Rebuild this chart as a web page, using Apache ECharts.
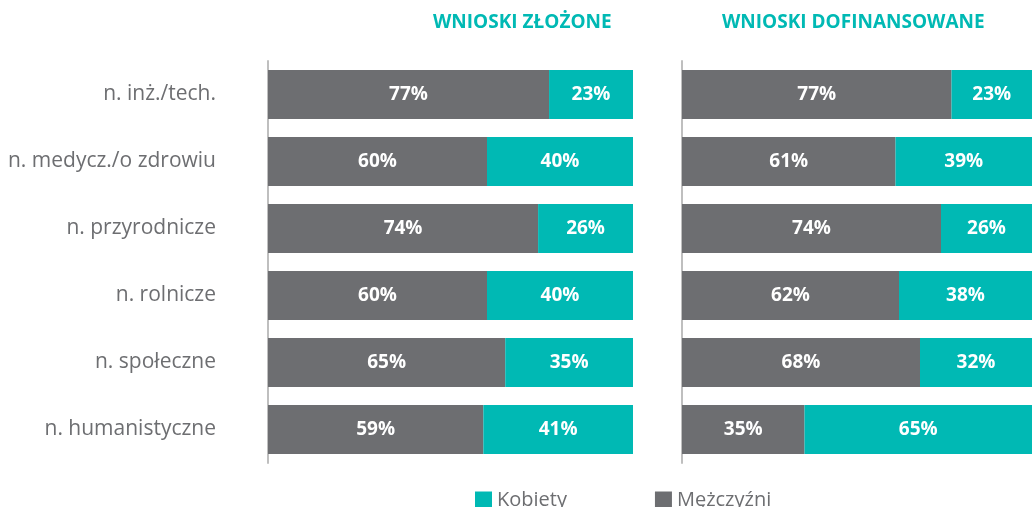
<!DOCTYPE html>
<html>
<head>
<meta charset="UTF-8">
<script src="https://cdn.jsdelivr.net/npm/echarts@6/dist/echarts.min.js"></script>
<style>
  html, body { margin: 0; padding: 0; background: #fff; }
  #chart { width: 1032px; height: 507px; }
</style>
</head>
<body>
<div id="chart"></div>
<script>
// kategorie (od góry)
var categories = ['n. inż./tech.', 'n. medycz./o zdrowiu', 'n. przyrodnicze', 'n. rolnicze', 'n. społeczne', 'n. humanistyczne'];
// wnioski złożone
var zlozoneM = [77, 60, 74, 60, 65, 59];
var zlozoneK = [23, 40, 26, 40, 35, 41];
// wnioski dofinansowane
var dofinM = [77, 61, 74, 62, 68, 35];
var dofinK = [23, 39, 26, 38, 32, 65];

var GREY = '#6d6e71', TEAL = '#00b9b4';
var font = '"Open Sans", "Noto Sans", sans-serif';

var myChart = echarts.init(document.getElementById('chart'));

var barLabel = {
    show: true,
    position: 'inside',
    formatter: '{c}%',
    color: '#fff',
    fontSize: 19,
    fontWeight: 'bold',
    fontFamily: font
};

function makeSeries(name, data, color, idx) {
    return {
        name: name,
        type: 'bar',
        stack: 'p' + idx,
        xAxisIndex: idx,
        yAxisIndex: idx,
        barWidth: 49,
        itemStyle: { color: color },
        label: barLabel,
        data: data
    };
}

var option = {
    animation: false,
    textStyle: { fontFamily: font },
    title: [
        { text: 'WNIOSKI ZŁOŻONE', left: 428, top: 8,
          textStyle: { color: TEAL, fontSize: 19, fontWeight: 'bold', fontFamily: font } },
        { text: 'WNIOSKI DOFINANSOWANE', left: 717, top: 8,
          textStyle: { color: TEAL, fontSize: 19, fontWeight: 'bold', fontFamily: font } }
    ],
    legend: {
        data: ['Kobiety', 'Mężczyźni'],
        left: 470,
        top: 485,
        itemWidth: 17,
        itemHeight: 17,
        itemGap: 88,
        icon: 'rect',
        textStyle: { color: GREY, fontSize: 20, fontFamily: font }
    },
    grid: [
        { left: 268, width: 365, top: 61, height: 402 },
        { left: 682, right: 0, top: 61, height: 402 }
    ],
    xAxis: [
        { type: 'value', gridIndex: 0, min: 0, max: 100, show: false },
        { type: 'value', gridIndex: 1, min: 0, max: 100, show: false }
    ],
    yAxis: [
        {
            type: 'category', gridIndex: 0, inverse: true, data: categories,
            axisLine: { lineStyle: { color: '#bfbfbf', width: 2 } },
            axisTick: { show: false },
            axisLabel: { color: GREY, fontSize: 21, margin: 52, fontFamily: font }
        },
        {
            type: 'category', gridIndex: 1, inverse: true, data: categories,
            axisLine: { lineStyle: { color: '#bfbfbf', width: 2 } },
            axisTick: { show: false },
            axisLabel: { show: false }
        }
    ],
    series: [
        makeSeries('Mężczyźni', zlozoneM, GREY, 0),
        makeSeries('Kobiety', zlozoneK, TEAL, 0),
        makeSeries('Mężczyźni', dofinM, GREY, 1),
        makeSeries('Kobiety', dofinK, TEAL, 1)
    ]
};

myChart.setOption(option);
</script>
</body>
</html>
